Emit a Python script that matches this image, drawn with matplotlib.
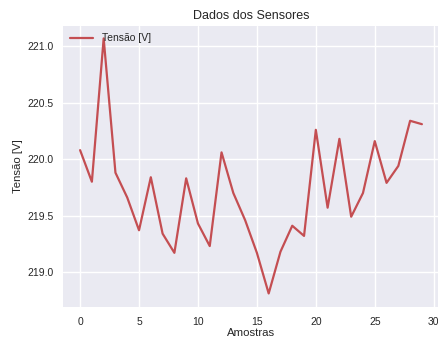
import matplotlib
matplotlib.use("Agg")
import matplotlib.pyplot as plt

amostras = list(range(30))
tensao = [220.08, 219.80, 221.07, 219.88, 219.66, 219.37, 219.84, 219.34, 219.17, 219.83,
          219.43, 219.23, 220.06, 219.70, 219.46, 219.17, 218.81, 219.18, 219.41, 219.32,
          220.26, 219.57, 220.18, 219.49, 219.70, 220.16, 219.79, 219.94, 220.34, 220.31]

plt.style.use('seaborn-v0_8')
plt.rcParams['font.family'] = ['Liberation Sans', 'DejaVu Sans']

fig = plt.figure(figsize=(4.39, 3.43), dpi=100)
ax = fig.add_axes([63/439, 36/343, 376/439, 281/343])

ax.plot(amostras, tensao, color='#C44E52', linewidth=1.6, label='Tensão [V]')
ax.set_xlim(-1.45, 30.45)
ax.set_ylim(218.69, 221.18)
ax.set_xticks([0, 5, 10, 15, 20, 25, 30])
ax.set_yticks([219.0, 219.5, 220.0, 220.5, 221.0])
ax.tick_params(labelsize=7.5)

ax.set_title('Dados dos Sensores', fontsize=9, pad=5)
ax.set_xlabel('Amostras', fontsize=8.2, labelpad=1)
ax.set_ylabel('Tensão [V]', fontsize=8.2, labelpad=3)
ax.legend(loc='upper left', fontsize=7.5, handlelength=2.2, borderaxespad=0.3)

fig.savefig('out.png', dpi=100)
